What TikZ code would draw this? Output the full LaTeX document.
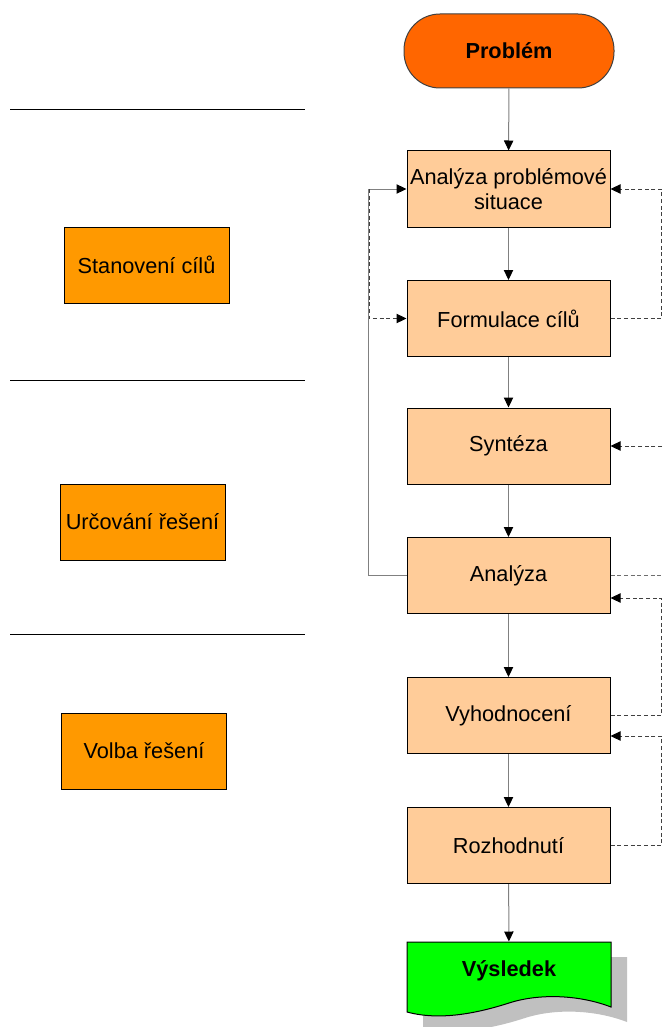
\documentclass[tikz,border=0pt]{standalone}
\usepackage{fontspec}
\setmainfont{Liberation Sans}
\usetikzlibrary{arrows.meta,calc}

\tikzset{every picture/.style={line width=0.75pt}}

\begin{document}
\begin{tikzpicture}[x=0.75pt,y=0.75pt,yscale=-1,xscale=1,
  pismo/.style={font=\fontsize{16.3}{18.75}\selectfont},
  start/.style={pismo, draw={rgb, 255:red, 64; green, 64; blue, 64}, fill={rgb, 255:red, 255; green, 102; blue, 0}, rounded corners=27pt, minimum width=157.5pt, minimum height=55.5pt, inner sep=0.75pt},
  krok/.style={pismo, draw, fill={rgb, 255:red, 255; green, 204; blue, 153}, minimum width=152.25pt, minimum height=57pt, inner sep=0.75pt, align=center},
  faze/.style={pismo, draw, fill={rgb, 255:red, 255; green, 153; blue, 0}, minimum width=123.75pt, minimum height=57pt, inner sep=0.75pt},
  tok/.style={draw={rgb, 255:red, 128; green, 128; blue, 128}, -{Triangle[length=7.5pt,width=7pt,color=black]}},
  zpet/.style={draw={rgb, 255:red, 64; green, 64; blue, 64}, dash pattern=on 3pt off 2pt, -{Triangle[length=7.5pt,width=7pt,color=black]}},
  zpetbez/.style={draw={rgb, 255:red, 110; green, 110; blue, 110}, dash pattern=on 3pt off 2pt},
  ]
\useasboundingbox (0,0) rectangle (662,1027);

%Section lines
\draw (10,110) -- (305,110) ;
\draw (10,380) -- (305,380) ;
\draw (10,634) -- (305,634) ;

%Phases
\node [faze] (stanoveni) at (146.5,265) {Stanovení cílů};
\node [faze] (urcovani) at (142.5,522) {Určování řešení};
\node [faze] (volba) at (144,751) {Volba řešení};

%Steps
\node [start] (problem) at (509,51) {\bfseries Problém};
\node [krok] (situace) at (508.5,189) {Analýza problémové\\situace};
\node [krok] (cile) at (508.5,318.5) {Formulace cílů};
\node [krok] (synteza) at (508.5,446) {Syntéza};
\node [krok] (analyza) at (508.5,575.5) {Analýza};
\node [krok] (hodnoceni) at (508.5,715.5) {Vyhodnocení};
\node [krok] (rozhodnuti) at (508.5,845.5) {Rozhodnutí};

%Shape: Document
\def\listina{(407,942) -- (611,942) -- (611,1007) .. controls (580,995) and (540,993) .. (509,1003) .. controls (478,1013) and (440,1021) .. (407,1012) -- cycle}
\fill [fill={rgb, 255:red, 192; green, 192; blue, 192}, shift={(16,15)}] \listina ;
\draw [fill={rgb, 255:red, 0; green, 255; blue, 0}] \listina ;
\node [pismo, minimum width=153pt, minimum height=43.5pt, inner sep=0pt] (vysledek) at (509,971) {\bfseries Výsledek};

%Main flow
\draw [tok] (problem) -- (situace) ;
\draw [tok] (situace) -- (cile) ;
\draw [tok] (cile) -- (synteza) ;
\draw [tok] (synteza) -- (analyza) ;
\draw [tok] (analyza) -- (hodnoceni) ;
\draw [tok] (hodnoceni) -- (rozhodnuti) ;
\draw [tok] (rozhodnuti) -- (vysledek) ;

%Left feedback
\draw [tok] (analyza.west) -- ++(-38,0) |- (situace.west) ;
\coordinate (roh) at (369,189) ;
\draw [zpet] (roh) |- (cile.west) ;

%Right feedback
\draw [zpet] (cile.east) -- ++(51,0) |- (situace.east) ;
\coordinate (vstup) at (662,446) ;
\draw [zpet] (vstup) -- (synteza.east) ;
\coordinate (vystup) at (662,575.5) ;
\draw [zpetbez] (analyza.east) -- (vystup) ;
\draw [zpet] (hodnoceni.east) -- ++(51,0) |- ($(analyza.east)+(0,22.5)$) ;
\draw [zpet] (rozhodnuti.east) -- ++(51,0) |- ($(hodnoceni.east)+(0,20.5)$) ;

\end{tikzpicture}
\end{document}
